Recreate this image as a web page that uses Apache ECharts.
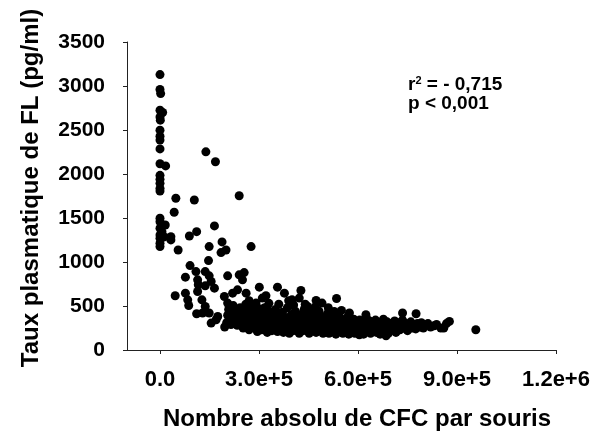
<!DOCTYPE html>
<html>
<head>
<meta charset="utf-8">
<script src="https://cdn.jsdelivr.net/npm/echarts@6/dist/echarts.min.js"></script>
<style>
  html, body { margin: 0; padding: 0; background: #fff; }
  #chart { width: 594px; height: 435px; }
</style>
</head>
<body>
<div id="chart"></div>
<script>
  // tick values and their printed labels
  const xTickValues = [0, 3e5, 6e5, 9e5, 1.2e6];
  const xTickLabels = ['0.0', '3.0e+5', '6.0e+5', '9.0e+5', '1.2e+6'];

  // mice near zero CFC: tall column of high FL levels
  const columnNearZero = [
    [0, 3130], [0, 2960], [2000, 2914], [0, 2725], [8000, 2699], [0, 2649],
    [1000, 2612], [0, 2498], [0, 2430], [0, 2385], [0, 2285], [0, 2117],
    [1.7e4, 2092], [0, 1985], [0, 1939], [0, 1894], [0, 1837], [0, 1806],
    [0, 1497], [0, 1458], [1.6e4, 1421], [0, 1383], [6000, 1345], [0, 1307],
    [1.3e4, 1285], [0, 1270], [0, 1213], [0, 1175]
  ];

  // scattered points between the column and the main cloud
  const scattered = [
    [3.3e4, 1288], [3.3e4, 1251], [4.8e4, 1724], [4.3e4, 1565], [5.5e4, 1137],
    [1.04e5, 1704], [1.39e5, 2252], [1.68e5, 2139], [8.9e4, 1296], [1.11e5, 1345],
    [1.65e5, 1410], [2.4e5, 1753], [2.76e5, 1175], [1.49e5, 1175], [1.88e5, 1228],
    [2.0e5, 1137], [1.85e5, 1107], [1.47e5, 1016], [9.1e4, 959], [7.7e4, 828],
    [1.09e5, 891], [1.37e5, 891], [1.49e5, 843], [1.14e5, 797], [1.16e5, 741],
    [1.14e5, 665], [1.37e5, 729], [1.55e5, 778], [1.65e5, 703], [4.6e4, 616],
    [7.7e4, 646], [8.4e4, 570], [8.7e4, 506], [1.27e5, 570], [1.37e5, 494],
    [1.11e5, 412], [1.29e5, 420], [1.49e5, 420], [1.55e5, 306], [1.7e5, 344],
    [1.75e5, 381], [1.96e5, 261], [2.05e5, 843], [2.4e5, 854], [2.55e5, 880],
    [2.5e5, 797], [1.95e5, 608], [2.2e5, 646], [2.05e5, 533], [2.35e5, 684],
    [2.61e5, 646], [3.01e5, 714], [3.56e5, 714], [3.77e5, 646], [3.21e5, 616],
    [2.91e5, 533], [4.27e5, 676], [4.0e5, 570], [4.73e5, 563], [4.91e5, 533],
    [5.35e5, 585], [5.28e5, 438], [4.22e5, 590], [7.35e5, 420], [7.76e5, 412],
    [8.77e5, 325], [9.57e5, 230], [8.51e5, 249], [8.31e5, 276], [8.06e5, 287],
    [6.85e5, 162], [6.04e5, 173], [4.52e5, 420], [5.03e5, 381], [4.47e5, 494],
    [6.54e5, 324], [6.24e5, 400], [5.74e5, 420],
    [2.7e5, 560], [3.1e5, 590], [3.3e5, 530], [3.6e5, 520], [3.9e5, 560],
    [4.05e5, 510], [4.4e5, 520], [4.7e5, 490], [5.1e5, 480], [5.5e5, 450]
  ];

  // dense cloud of low FL levels
  const denseCloud = [
    [2.02e5, 310], [2.05e5, 395], [2.08e5, 460], [2.12e5, 350], [2.15e5, 290],
    [2.18e5, 420], [2.22e5, 505], [2.25e5, 330], [2.28e5, 380], [2.31e5, 455],
    [2.34e5, 280], [2.37e5, 410], [2.4e5, 350], [2.43e5, 480], [2.46e5, 300],
    [2.49e5, 395], [2.52e5, 250], [2.54e5, 440], [2.57e5, 340], [2.6e5, 520],
    [2.62e5, 280], [2.65e5, 390], [2.68e5, 460], [2.7e5, 230], [2.73e5, 330],
    [2.76e5, 420], [2.79e5, 290], [2.81e5, 500], [2.84e5, 370], [2.87e5, 250],
    [2.9e5, 440], [2.92e5, 320], [2.95e5, 210], [2.98e5, 390], [3.0e5, 470],
    [3.03e5, 280], [3.06e5, 350], [3.08e5, 230], [3.11e5, 420], [3.14e5, 310],
    [3.17e5, 480], [3.2e5, 260], [3.22e5, 380], [3.25e5, 200], [3.28e5, 330],
    [3.31e5, 440], [3.34e5, 270], [3.36e5, 360], [3.39e5, 220], [3.42e5, 400],
    [3.45e5, 300], [3.48e5, 250], [3.5e5, 460], [3.53e5, 340], [3.56e5, 210],
    [3.59e5, 290], [3.62e5, 390], [3.65e5, 250], [3.68e5, 330], [3.71e5, 430],
    [3.74e5, 200], [3.77e5, 300], [3.8e5, 370], [3.83e5, 240], [3.86e5, 480],
    [3.89e5, 320], [3.92e5, 190], [3.95e5, 270], [3.98e5, 400], [4.01e5, 340],
    [4.04e5, 220], [4.07e5, 290], [4.1e5, 440], [4.13e5, 360], [4.16e5, 250],
    [4.19e5, 310], [4.22e5, 190], [4.25e5, 400], [4.28e5, 270], [4.31e5, 340],
    [4.34e5, 220], [4.37e5, 460], [4.4e5, 300], [4.43e5, 380], [4.46e5, 240],
    [4.49e5, 330], [4.52e5, 190], [4.55e5, 280], [4.58e5, 420], [4.61e5, 350],
    [4.64e5, 230], [4.67e5, 300], [4.7e5, 380], [4.73e5, 200], [4.76e5, 270],
    [4.79e5, 340], [4.82e5, 440], [4.85e5, 230], [4.88e5, 310], [4.91e5, 380],
    [4.94e5, 190], [4.97e5, 270], [5.0e5, 340], [5.03e5, 230], [5.06e5, 300],
    [5.09e5, 420], [5.12e5, 190], [5.15e5, 260], [5.18e5, 350], [5.21e5, 210],
    [5.24e5, 300], [5.27e5, 380], [5.3e5, 240], [5.33e5, 180], [5.36e5, 320],
    [5.39e5, 270], [5.42e5, 400], [5.45e5, 220], [5.48e5, 300], [5.51e5, 350],
    [5.54e5, 190], [5.57e5, 260], [5.6e5, 330], [5.63e5, 220], [5.66e5, 290],
    [5.69e5, 380], [5.72e5, 180], [5.75e5, 250], [5.78e5, 320], [5.81e5, 210],
    [5.84e5, 280], [5.87e5, 350], [5.9e5, 190], [5.93e5, 260], [5.96e5, 310],
    [5.99e5, 220], [6.02e5, 290], [6.05e5, 340], [6.08e5, 200], [6.11e5, 270],
    [6.14e5, 320], [6.17e5, 180], [6.2e5, 240], [6.23e5, 300], [6.26e5, 360],
    [6.29e5, 210], [6.32e5, 270], [6.35e5, 330], [6.38e5, 190], [6.41e5, 250],
    [6.44e5, 300], [6.47e5, 220], [6.5e5, 280], [6.53e5, 340], [6.56e5, 200],
    [6.6e5, 260], [6.63e5, 310], [6.67e5, 180], [6.7e5, 240], [6.73e5, 290],
    [6.77e5, 350], [6.8e5, 210], [6.84e5, 270], [6.88e5, 320], [6.92e5, 190],
    [6.95e5, 250], [6.99e5, 300], [7.03e5, 230], [7.07e5, 280], [7.11e5, 330],
    [7.15e5, 200], [7.19e5, 260], [7.23e5, 310], [7.27e5, 230], [7.31e5, 280],
    [7.35e5, 340], [7.4e5, 250], [7.45e5, 300], [7.5e5, 220], [7.55e5, 270],
    [7.6e5, 320], [7.65e5, 250], [7.7e5, 290], [7.75e5, 240], [7.8e5, 300],
    [7.86e5, 260], [7.92e5, 310], [7.98e5, 250], [8.04e5, 280], [8.12e5, 300],
    [8.2e5, 260], [8.38e5, 290], [8.6e5, 250], [8.68e5, 300]
  ];

  const chart = echarts.init(document.getElementById('chart'), null, { renderer: 'canvas' });

  const fontFamily = '"Liberation Sans", Arial, sans-serif';
  const axisColor = '#222';

  chart.setOption({
    backgroundColor: '#fff',
    animation: false,
    grid: { left: 127, right: 38, top: 42, bottom: 85, containLabel: false },
    xAxis: {
      type: 'value',
      min: -1e5,
      max: 1.2e6,
      splitLine: { show: false },
      axisLine: { show: true, onZero: false, lineStyle: { color: axisColor, width: 1 } },
      axisTick: { show: true, length: 4, customValues: xTickValues, lineStyle: { color: axisColor } },
      axisLabel: {
        customValues: xTickValues,
        margin: 19,
        color: '#000',
        fontFamily: fontFamily,
        fontWeight: 'bold',
        fontSize: 22,
        formatter: (v) => xTickLabels[xTickValues.indexOf(v)] ?? ''
      }
    },
    yAxis: {
      type: 'value',
      min: 0,
      max: 3500,
      interval: 500,
      splitLine: { show: false },
      axisLine: { show: true, onZero: false, lineStyle: { color: axisColor, width: 1 } },
      axisTick: { show: true, length: 4, lineStyle: { color: axisColor } },
      axisLabel: {
        margin: 22,
        color: '#000',
        fontFamily: fontFamily,
        fontWeight: 'bold',
        fontSize: 21,
        formatter: (v) => String(v)
      }
    },
    graphic: [
      {
        type: 'text',
        x: 357,
        y: 419,
        style: {
          text: 'Nombre absolu de CFC par souris',
          fill: '#000',
          font: 'bold 24px ' + fontFamily,
          textAlign: 'center',
          textVerticalAlign: 'middle'
        }
      },
      {
        type: 'text',
        x: 31,
        y: 188,
        rotation: Math.PI / 2,
        style: {
          text: 'Taux plasmatique de FL (pg/ml)',
          fill: '#000',
          font: 'bold 24px ' + fontFamily,
          textAlign: 'center',
          textVerticalAlign: 'middle'
        }
      },
      {
        type: 'text',
        x: 408,
        y: 85,
        style: {
          text: '{b|r}{s|2}{b| = - 0,715}',
          textVerticalAlign: 'middle',
          rich: {
            b: { fill: '#000', fontFamily: fontFamily, fontWeight: 'bold', fontSize: 19 },
            s: { fill: '#000', fontFamily: fontFamily, fontWeight: 'bold', fontSize: 11, verticalAlign: 'top', padding: [0, 0, 8, 0] }
          }
        }
      },
      {
        type: 'text',
        x: 408,
        y: 104,
        style: {
          text: 'p < 0,001',
          fill: '#000',
          font: 'bold 19px ' + fontFamily,
          textVerticalAlign: 'middle'
        }
      }
    ],
    series: [
      {
        type: 'scatter',
        symbol: 'circle',
        symbolSize: 9,
        itemStyle: { color: '#000', opacity: 1 },
        data: columnNearZero.concat(scattered, denseCloud)
      }
    ]
  });
</script>
</body>
</html>
